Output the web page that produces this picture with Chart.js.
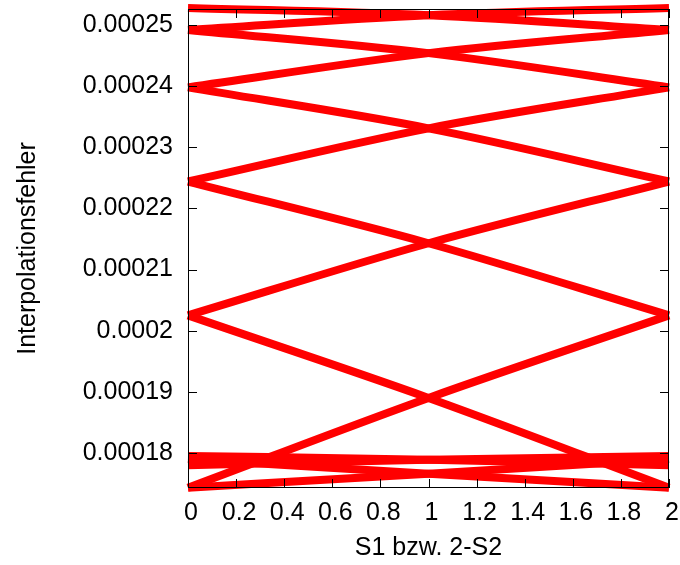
<!DOCTYPE html>
<html>
<head>
<meta charset="utf-8">
<script src="https://cdn.jsdelivr.net/npm/chart.js@4/dist/chart.umd.min.js"></script>
<style>
  html, body { margin: 0; padding: 0; background: #ffffff; }
  #wrap { width: 680px; height: 565px; }
</style>
</head>
<body>
<div id="wrap"><canvas id="c" width="680" height="565"></canvas></div>
<script>
// Shift positions (S1 resp. 2-S2) at which the error was evaluated
const shift = [0, 1, 2];

// Interpolation error over S1
const errS1_1 = [0.0002528, 0.0002516, 0.0002492];
const errS1_2 = [0.0002492, 0.0002454, 0.0002398];
const errS1_3 = [0.0002398, 0.0002331, 0.0002244];
const errS1_4 = [0.0002244, 0.0002143, 0.0002025];
const errS1_5 = [0.0002025, 0.0001890, 0.0001743];
const errS1_6 = [0.0001743, 0.0001766, 0.0001790];
const errS1_7 = [0.0001795, 0.0001789, 0.0001780];

// Interpolation error over 2-S2
const errS2_1 = [0.0002492, 0.0002516, 0.0002528];
const errS2_2 = [0.0002398, 0.0002454, 0.0002492];
const errS2_3 = [0.0002244, 0.0002331, 0.0002398];
const errS2_4 = [0.0002025, 0.0002143, 0.0002244];
const errS2_5 = [0.0001743, 0.0001890, 0.0002025];
const errS2_6 = [0.0001790, 0.0001766, 0.0001743];
const errS2_7 = [0.0001780, 0.0001789, 0.0001795];

// Axis ticks
const xTickValues = [0, 0.2, 0.4, 0.6, 0.8, 1, 1.2, 1.4, 1.6, 1.8, 2];
const xTickLabels = ['0', '0.2', '0.4', '0.6', '0.8', '1', '1.2', '1.4', '1.6', '1.8', '2'];
const yTickValues = [0.00018, 0.00019, 0.0002, 0.00021, 0.00022, 0.00023, 0.00024, 0.00025];
const yTickLabels = ['0.00018', '0.00019', '0.0002', '0.00021', '0.00022', '0.00023', '0.00024', '0.00025'];
const yMin = 0.00017426;
const yMax = 0.00025262;

const allSeries = [errS1_1, errS1_2, errS1_3, errS1_4, errS1_5, errS1_6, errS1_7,
                   errS2_1, errS2_2, errS2_3, errS2_4, errS2_5, errS2_6, errS2_7];

const datasets = allSeries.map(vals => ({
  data: shift.map((s, i) => ({ x: s, y: vals[i] })),
  borderColor: '#ff0000',
  backgroundColor: '#ff0000',
  borderWidth: 8,
  borderCapStyle: 'butt',
  pointRadius: 0,
  fill: false,
  cubicInterpolationMode: 'monotone',
  clip: false
}));

const FONT = { family: '"Liberation Sans", Arial, Helvetica, sans-serif', size: 25 };

// Plot frame with inward tick marks on all four sides
const framePlugin = {
  id: 'frame',
  afterDatasetsDraw(chart) {
    const { ctx, chartArea: a, scales } = chart;
    const L = 9;
    ctx.save();
    ctx.strokeStyle = '#000000';
    ctx.lineWidth = 1;
    ctx.beginPath();
    xTickValues.forEach(v => {
      const px = Math.round(scales.x.getPixelForValue(v)) + 0.5;
      ctx.moveTo(px, a.bottom); ctx.lineTo(px, a.bottom - L);
      ctx.moveTo(px, a.top); ctx.lineTo(px, a.top + L);
    });
    yTickValues.forEach(v => {
      const py = Math.round(scales.y.getPixelForValue(v)) + 0.5;
      ctx.moveTo(a.left, py); ctx.lineTo(a.left + L, py);
      ctx.moveTo(a.right, py); ctx.lineTo(a.right - L, py);
    });
    ctx.stroke();
    ctx.strokeRect(a.left + 0.5, a.top + 0.5, a.right - a.left - 1, a.bottom - a.top - 1);
    ctx.restore();
  }
};

new Chart(document.getElementById('c'), {
  type: 'line',
  data: { datasets },
  plugins: [framePlugin],
  options: {
    responsive: false,
    animation: false,
    devicePixelRatio: 1,
    layout: { padding: { top: 9, right: 11, left: 0, bottom: 0 } },
    plugins: { legend: { display: false }, tooltip: { enabled: false } },
    scales: {
      x: {
        type: 'linear',
        min: 0,
        max: 2,
        afterBuildTicks: s => { s.ticks = xTickValues.map(v => ({ value: v })); },
        afterFit: s => { s.height = 77; s.paddingLeft = 0; s.paddingRight = 0; },
        grid: { display: false, drawTicks: false },
        border: { display: false },
        ticks: {
          font: FONT,
          color: '#000000',
          padding: 10,
          labelOffset: 3,
          maxRotation: 0,
          autoSkip: false,
          callback: (v, i) => xTickLabels[i]
        },
        title: {
          display: true,
          text: 'S1 bzw. 2-S2',
          font: FONT,
          color: '#000000',
          padding: { top: 0, bottom: 2 }
        }
      },
      y: {
        type: 'linear',
        min: yMin,
        max: yMax,
        afterBuildTicks: s => { s.ticks = yTickValues.map(v => ({ value: v })); },
        afterFit: s => { s.width = 188; s.paddingTop = 0; s.paddingBottom = 0; },
        grid: { display: false, drawTicks: false },
        border: { display: false },
        ticks: {
          font: FONT,
          color: '#000000',
          padding: 15,
          autoSkip: false,
          callback: (v, i) => yTickLabels[i]
        },
        title: {
          display: true,
          text: 'Interpolationsfehler',
          font: FONT,
          color: '#000000',
          padding: { top: 13, bottom: 0 }
        }
      }
    }
  }
});
</script>
</body>
</html>
